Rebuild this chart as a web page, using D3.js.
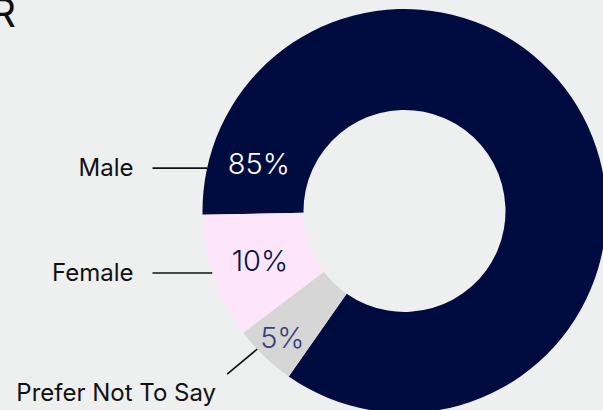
<!doctype html>
<html lang="en">
<head>
  <meta charset="utf-8">
  <title>Gender</title>
  <script src="https://d3js.org/d3.v7.min.js"></script>
  <style>
    html, body { margin: 0; padding: 0; background: #eef0ef; }
    svg { display: block; }
  </style>
</head>
<body>
  <svg id="chart" width="603" height="410"></svg>
  <script>
    // Chart data
    const categories = ["Male", "Prefer Not To Say", "Female"];
    const values = [85, 5, 10];
    const valueLabels = ["85%", "5%", "10%"];
    const title = "GENDER";

    const colors = {
      "Male": "#000c40",
      "Prefer Not To Say": "#d6d6d6",
      "Female": "#fde6fc"
    };
    const labelColors = {
      "Male": "#ffffff",
      "Prefer Not To Say": "#3b3f7c",
      "Female": "#0b1348"
    };

    const width = 603, height = 410;
    const cx = 404.5, cy = 211;
    const outerR = 202, innerR = 101;

    const svg = d3.select("#chart");

    // title, mostly cut off by the frame
    svg.append("text")
      .attr("x", 16)
      .attr("y", 27)
      .attr("text-anchor", "end")
      .attr("font-family", "Inter, 'Noto Sans', sans-serif")
      .attr("font-weight", 400)
      .attr("font-size", 40)
      .attr("fill", "#111")
      .text(title);

    const pie = d3.pie()
      .sort(null)
      .value(d => d.value)
      .startAngle(-Math.PI / 2 - 0.018)
      .endAngle(3 * Math.PI / 2 - 0.018);

    const data = categories.map((c, i) => ({ name: c, value: values[i], label: valueLabels[i] }));
    const arcs = pie(data);

    const arc = d3.arc().innerRadius(innerR).outerRadius(outerR);

    const g = svg.append("g").attr("transform", `translate(${cx},${cy})`);

    g.selectAll("path")
      .data(arcs)
      .join("path")
      .attr("d", arc)
      .attr("fill", d => colors[d.data.name]);

    // where labels sit: big slice near its start, small ones at their middle
    function labelAngle(d) {
      const span = d.endAngle - d.startAngle;
      return span > Math.PI ? d.startAngle + 0.33 : (d.startAngle + d.endAngle) / 2;
    }
    function labelRadius(d) {
      const span = d.endAngle - d.startAngle;
      return span < 0.4 ? 176 : 153;
    }
    function leaderAngle(d) {
      const span = d.endAngle - d.startAngle;
      if (span > Math.PI) return d.startAngle + 0.232;
      if (span < 0.4) return (d.startAngle + d.endAngle) / 2 + 0.05;
      return (d.startAngle + d.endAngle) / 2 + 0.02;
    }
    const pt = (a, r) => [Math.sin(a) * r, -Math.cos(a) * r];

    g.selectAll("text.pct")
      .data(arcs)
      .join("text")
      .attr("class", "pct")
      .attr("x", d => pt(labelAngle(d), labelRadius(d))[0])
      .attr("y", d => pt(labelAngle(d), labelRadius(d))[1])
      .attr("dy", "0.36em")
      .attr("text-anchor", "middle")
      .attr("font-family", "Inter, 'Noto Sans', sans-serif")
      .attr("font-weight", 300)
      .attr("font-size", 29)
      .attr("fill", d => labelColors[d.data.name])
      .text(d => d.data.label);

    // leader lines and category names
    arcs.forEach(d => {
      const [ex, ey] = pt(leaderAngle(d), outerR);
      const small = d.endAngle - d.startAngle < 0.4;
      let sx, sy, tx, ty, anchor;
      if (small) {
        sx = ex - 30; sy = ey + 25;
        tx = sx - 111; ty = sy + 27; anchor = "middle";
      } else {
        sx = -252; sy = ey;
        tx = sx - 19; ty = sy + 7.5; anchor = "end";
      }
      g.append("line")
        .attr("x1", sx).attr("y1", sy)
        .attr("x2", ex).attr("y2", ey)
        .attr("stroke", "#111")
        .attr("stroke-width", 1.6);
      g.append("text")
        .attr("x", tx).attr("y", ty)
        .attr("text-anchor", anchor)
        .attr("font-family", "Inter, 'Noto Sans', sans-serif")
        .attr("font-weight", 400)
        .attr("font-size", 24)
        .attr("fill", "#111")
        .text(d.data.name);
    });
  </script>
</body>
</html>
